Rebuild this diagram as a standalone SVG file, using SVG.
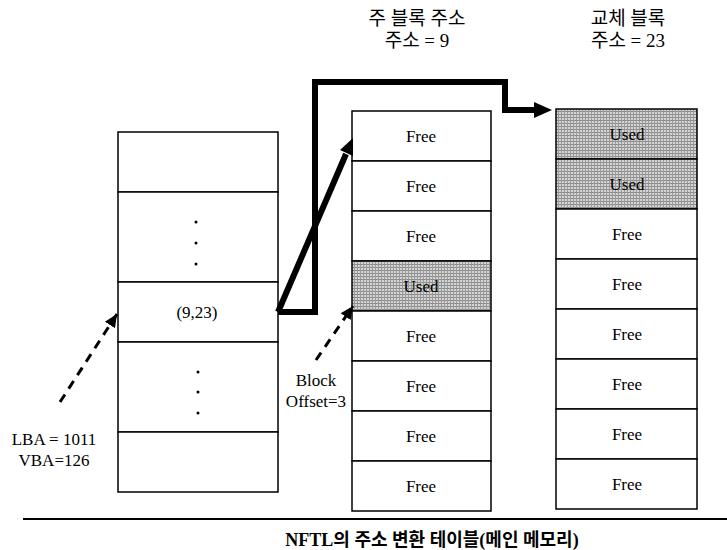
<svg xmlns="http://www.w3.org/2000/svg" width="727" height="550" viewBox="0 0 727 550">
<defs>
<style>
.cell{fill:#fff;stroke:#000;stroke-width:1.5}
.used{fill:url(#hatch);stroke:#000;stroke-width:1.5}
.t{font-family:'Liberation Serif','Times New Roman','DejaVu Serif',serif;font-size:17px;fill:#000;text-anchor:middle}
.k{font-family:'Liberation Serif','Noto Sans CJK KR',serif;font-size:19px;fill:#000;text-anchor:middle}
.cap{font-family:'Liberation Serif','Noto Sans CJK KR',serif;font-size:18px;font-weight:bold;fill:#000;text-anchor:middle}
.thick{fill:none;stroke:#000;stroke-width:6;stroke-linejoin:miter}
.dash{fill:none;stroke:#000;stroke-width:3;stroke-dasharray:9,7}
</style>
<pattern id="hatch" width="3" height="3" patternUnits="userSpaceOnUse">
<rect width="3" height="3" fill="#d4d4d4"/>
<rect width="3" height="1" fill="#8a8a8a"/>
<rect width="1" height="3" fill="#9a9a9a"/>
</pattern>
<marker id="ahs" markerUnits="userSpaceOnUse" markerWidth="14" markerHeight="14" viewBox="0 0 14 14" refX="13" refY="7" orient="auto">
<path d="M0,1 L13,7 L0,13 Z" fill="#000"/>
</marker>
</defs>

<g id="header-main">
<text class="k" x="417" y="25">주 블록 주소</text>
<text class="k" x="417" y="47">주소 = 9</text>
</g>
<g id="header-replace">
<text class="k" x="628" y="25">교체 블록</text>
<text class="k" x="628" y="47">주소 = 23</text>
</g>

<g id="table">
<rect class="cell" x="118" y="132" width="160" height="60"/>
<rect class="cell" x="118" y="192" width="160" height="90"/>
<circle cx="196" cy="222" r="1.5"/>
<circle cx="196" cy="243" r="1.5"/>
<circle cx="196" cy="264" r="1.5"/>
<rect class="cell" x="118" y="282" width="160" height="60"/>
<text class="t" x="197" y="318">(9,23)</text>
<rect class="cell" x="118" y="342" width="160" height="90"/>
<circle cx="198" cy="372" r="1.5"/>
<circle cx="198" cy="392" r="1.5"/>
<circle cx="198" cy="413" r="1.5"/>
<rect class="cell" x="118" y="432" width="160" height="60"/>
</g>

<g id="main-block">
<rect class="cell" x="352" y="111" width="139" height="50"/>
<text class="t" x="421" y="142">Free</text>
<rect class="cell" x="352" y="161" width="139" height="50"/>
<text class="t" x="421" y="192">Free</text>
<rect class="cell" x="352" y="211" width="139" height="50"/>
<text class="t" x="421" y="242">Free</text>
<rect class="used" x="352" y="261" width="139" height="50"/>
<text class="t" x="421" y="292">Used</text>
<rect class="cell" x="352" y="311" width="139" height="50"/>
<text class="t" x="421" y="342">Free</text>
<rect class="cell" x="352" y="361" width="139" height="50"/>
<text class="t" x="421" y="392">Free</text>
<rect class="cell" x="352" y="411" width="139" height="50"/>
<text class="t" x="421" y="442">Free</text>
<rect class="cell" x="352" y="461" width="139" height="50"/>
<text class="t" x="421" y="492">Free</text>
</g>

<g id="replace-block">
<rect class="used" x="556" y="109" width="141" height="50"/>
<text class="t" x="627" y="140">Used</text>
<rect class="used" x="556" y="159" width="141" height="50"/>
<text class="t" x="627" y="190">Used</text>
<rect class="cell" x="556" y="209" width="141" height="50"/>
<text class="t" x="627" y="240">Free</text>
<rect class="cell" x="556" y="259" width="141" height="50"/>
<text class="t" x="627" y="290">Free</text>
<rect class="cell" x="556" y="309" width="141" height="50"/>
<text class="t" x="627" y="340">Free</text>
<rect class="cell" x="556" y="359" width="141" height="50"/>
<text class="t" x="627" y="390">Free</text>
<rect class="cell" x="556" y="409" width="141" height="50"/>
<text class="t" x="627" y="440">Free</text>
<rect class="cell" x="556" y="459" width="141" height="50"/>
<text class="t" x="627" y="490">Free</text>
</g>

<g id="labels">
<text class="t" x="54" y="445">LBA = 1011</text>
<text class="t" x="54" y="466">VBA=126</text>
<text class="t" x="316" y="386">Block</text>
<text class="t" x="316" y="407">Offset=3</text>
</g>

<g id="connectors">
<path class="thick" d="M278,312 L315,312 L315,82 L505,82 L505,110 L536,110" />
<path d="M534,102 L552,110 L534,118 Z" fill="#000"/>
<path class="thick" d="M278,312 L346,154" />
<path d="M340,150 L353,138 L353,156 Z" fill="#000"/>
<path class="dash" d="M60,402 L117,314" marker-end="url(#ahs)"/>
<path class="dash" d="M316,360 L353,306" marker-end="url(#ahs)"/>
</g>

<g id="caption">
<line x1="23" y1="519" x2="727" y2="519" stroke="#000" stroke-width="2"/>
<text class="cap" x="432" y="546">NFTL의 주소 변환 테이블(메인 메모리)</text>
</g>
</svg>
